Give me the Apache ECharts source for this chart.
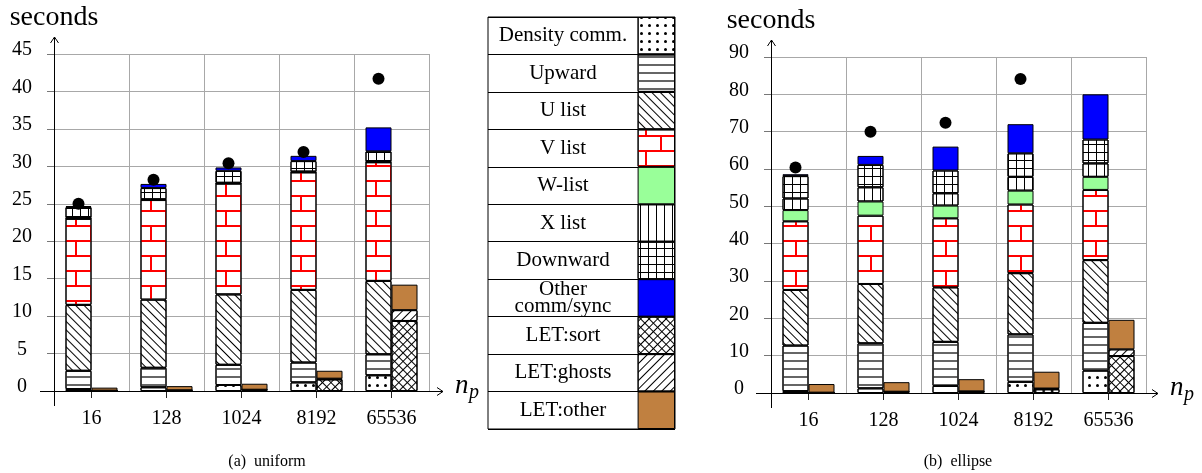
<!DOCTYPE html>
<html><head><meta charset="utf-8">
<script src="https://cdn.jsdelivr.net/npm/echarts@6/dist/echarts.min.js"></script>
<style>html,body{margin:0;padding:0;background:#fff}#c{width:1202px;height:473px}</style>
</head><body><div id="c"></div>
<script>
// ---------- data ----------
const categories = ['16', '128', '1024', '8192', '65536'];
const legendNames = ['Density comm.', 'Upward', 'U list', 'V list', 'W-list', 'X list', 'Downward', 'Other\ncomm/sync', 'LET:sort', 'LET:ghosts', 'LET:other'];
const leftTicks = [0, 5, 10, 15, 20, 25, 30, 35, 40, 45];
const rightTicks = [0, 10, 20, 30, 40, 50, 60, 70, 80, 90];

// (a) uniform
const uniDensity  = [0.25, 0.5, 0.8, 1.15, 2.1];
const uniUpward   = [2.45, 2.6, 2.7, 2.65, 2.8];
const uniUlist    = [8.8, 9.1, 9.4, 9.7, 9.8];
const uniVlist    = [11.5, 13.3, 14.8, 15.7, 15.85];
const uniWlist    = [0, 0, 0, 0, 0];
const uniXlist    = [0.1, 0.1, 0.1, 0.1, 0.1];
const uniDownward = [1.45, 1.5, 1.6, 1.4, 1.35];
const uniOther    = [0.15, 0.55, 0.45, 0.7, 3.2];
const uniLetSort   = [0.05, 0.1, 0.15, 1.55, 9.35];
const uniLetGhosts = [0, 0, 0.02, 0.1, 1.45];
const uniLetOther  = [0.4, 0.55, 0.8, 1.05, 3.4];
const uniTotal     = [25.0, 28.2, 30.4, 31.9, 41.7];

// (b) ellipse
const ellDensity  = [0.5, 1.25, 1.9, 3.0, 6.0];
const ellUpward   = [12.2, 12.05, 11.8, 12.7, 12.8];
const ellUlist    = [14.9, 15.9, 14.6, 16.4, 16.8];
const ellVlist    = [18.4, 18.3, 18.5, 18.4, 18.8];
const ellWlist    = [3.0, 3.8, 3.4, 3.7, 3.5];
const ellXlist    = [3.1, 3.8, 3.3, 3.7, 3.6];
const ellDownward = [6.0, 6.0, 6.1, 6.3, 6.4];
const ellOther    = [0.5, 2.4, 6.4, 7.8, 12.1];
const ellLetSort   = [0.1, 0.3, 0.4, 1.0, 9.9];
const ellLetGhosts = [0, 0.05, 0.05, 0.2, 1.8];
const ellLetOther  = [2.3, 2.55, 3.25, 4.5, 7.9];
const ellTotal     = [60.4, 70.0, 72.4, 84.1, 90.3];

// ---------- styles ----------
const FONT = '"Liberation Serif","Times New Roman",serif';
const styles = [
  {color: '#fff', decal: {symbol: 'circle', symbolSize: 1, color: '#000', dashArrayX: [3, 5], dashArrayY: [3, 5]}},
  {color: '#fff', decal: {symbol: 'rect', symbolSize: 1, color: '#666', dashArrayX: [10, 0], dashArrayY: [2, 6]}},
  {color: '#fff', decal: {symbol: 'rect', symbolSize: 1, color: '#000', dashArrayX: [10, 0], dashArrayY: [1, 5], rotation: Math.PI / 4}},
  {color: '#fff', decal: {symbol: 'rect', symbolSize: 1, color: '#ff0000', dashArrayX: [[30, 0], [2, 28], [30, 0], [0, 15, 2, 13]], dashArrayY: [2, 0, 13, 0]}},
  {color: '#99ff99'},
  {color: '#fff', decal: {symbol: 'rect', symbolSize: 1, color: '#000', dashArrayX: [1, 7], dashArrayY: [10, 0]}},
  {color: '#fff', decal: {symbol: 'rect', symbolSize: 1, color: '#000', dashArrayX: [[8, 0], [1, 7]], dashArrayY: [1, 0, 7, 0]}},
  {color: '#0000ff'},
  {color: '#fff', decal: {symbol: 'rect', symbolSize: 1, color: '#000', dashArrayX: [[6, 0], [1, 5]], dashArrayY: [1, 0, 5, 0], rotation: Math.PI / 4}},
  {color: '#fff', decal: {symbol: 'rect', symbolSize: 1, color: '#000', dashArrayX: [10, 0], dashArrayY: [1, 5], rotation: -Math.PI / 4}},
  {color: '#c08040'}
];

const uniSeries = [uniDensity, uniUpward, uniUlist, uniVlist, uniWlist, uniXlist, uniDownward, uniOther, uniLetSort, uniLetGhosts, uniLetOther];
const ellSeries = [ellDensity, ellUpward, ellUlist, ellVlist, ellWlist, ellXlist, ellDownward, ellOther, ellLetSort, ellLetGhosts, ellLetOther];

// ---------- layout ----------
const GL = {left: 54, top: 54, width: 375, height: 337};
const GR = {left: 771, top: 57, width: 375, height: 336};
const GT = {left: 488, top: 17, width: 187, height: 412};

function xAxisFor(gi) {
  return {
    type: 'category', gridIndex: gi, data: categories, boundaryGap: true,
    axisLine: {show: false},
    axisTick: {show: true, alignWithLabel: true, length: 7, lineStyle: {color: '#222', width: 1}},
    axisLabel: {fontSize: 20, fontFamily: FONT, color: '#000', margin: 18, interval: 0},
    splitLine: {show: true, lineStyle: {color: '#a8a8a8', width: 1}}
  };
}
function yAxisFor(gi, max, interval, ticks) {
  return {
    type: 'value', gridIndex: gi, min: 0, max: max, interval: interval,
    name: 'seconds', nameLocation: 'end', nameGap: 22,
    nameTextStyle: {fontSize: 28, fontFamily: FONT, color: '#000', align: 'center'},
    axisLine: {show: false},
    axisTick: {show: true, length: 7, lineStyle: {color: '#777', width: 1}},
    axisLabel: {fontSize: 20, fontFamily: FONT, color: '#000', margin: 32, align: 'center',
      verticalAlign: 'bottom', lineHeight: 8,
      formatter: v => (ticks.indexOf(v) >= 0 ? String(v) : '')},
    splitLine: {show: true, lineStyle: {color: '#a8a8a8', width: 1}}
  };
}

const series = [];
function addChart(arrs, totals, idx) {
  arrs.forEach((arr, i) => {
    series.push({
      type: 'bar', name: legendNames[i], xAxisIndex: idx, yAxisIndex: idx,
      stack: (i < 8 ? 'main' + idx : 'let' + idx),
      barWidth: 26, barGap: '0%',
      itemStyle: Object.assign({borderColor: '#000', borderWidth: 1}, styles[i]),
      data: arr, silent: true
    });
  });
  series.push({
    type: 'scatter', xAxisIndex: idx, yAxisIndex: idx, data: totals,
    symbol: 'circle', symbolSize: 12, symbolOffset: [-13, 0],
    itemStyle: {color: '#000', opacity: 1}, z: 10, silent: true
  });
}
addChart(uniSeries, uniTotal, 0);
addChart(ellSeries, ellTotal, 1);

// legend table as a bar chart
series.push({
  type: 'bar', xAxisIndex: 2, yAxisIndex: 2, barCategoryGap: '0%', barWidth: '100%', silent: true,
  data: legendNames.map((n, i) => ({value: 1, itemStyle: Object.assign({borderColor: '#000', borderWidth: 1}, styles[i])}))
});

function axisGraphics(g, x0ext, y0ext, xEnd, yEnd) {
  const xl = g.left, yb = g.top + g.height;
  const L = 'line', st = {stroke: '#000', lineWidth: 1};
  return [
    {type: L, shape: {x1: x0ext, y1: yb + 0.5, x2: xEnd, y2: yb + 0.5}, style: st, z: 20},
    {type: 'polyline', shape: {points: [[xEnd - 6, yb - 3.5], [xEnd, yb + 0.5], [xEnd - 6, yb + 4.5]]}, style: {stroke: '#000', lineWidth: 1, fill: null}, z: 20},
    {type: L, shape: {x1: xl + 0.5, y1: y0ext, x2: xl + 0.5, y2: yEnd}, style: st, z: 20},
    {type: 'polyline', shape: {points: [[xl - 3.5, yEnd + 6], [xl + 0.5, yEnd], [xl + 4.5, yEnd + 6]]}, style: {stroke: '#000', lineWidth: 1, fill: null}, z: 20}
  ];
}

const graphics = []
  .concat(axisGraphics(GL, 40, 406, 443, 37))
  .concat(axisGraphics(GR, 756, 408, 1158, 40))
  .concat([
    {type: 'text', x: 455, y: 399, style: {text: 'n', font: 'italic 27px ' + FONT, fill: '#000', textVerticalAlign: 'bottom'}, z: 20},
    {type: 'text', x: 469, y: 403, style: {text: 'p', font: 'italic 20px ' + FONT, fill: '#000', textVerticalAlign: 'bottom'}, z: 20},
    {type: 'text', x: 1170, y: 401, style: {text: 'n', font: 'italic 27px ' + FONT, fill: '#000', textVerticalAlign: 'bottom'}, z: 20},
    {type: 'text', x: 1184, y: 405, style: {text: 'p', font: 'italic 20px ' + FONT, fill: '#000', textVerticalAlign: 'bottom'}, z: 20},
    {type: 'text', x: 267, y: 462, style: {text: '(a)  uniform', font: '16px ' + FONT, fill: '#000', textAlign: 'center', textVerticalAlign: 'middle'}},
    {type: 'text', x: 958, y: 462, style: {text: '(b)  ellipse', font: '16px ' + FONT, fill: '#000', textAlign: 'center', textVerticalAlign: 'middle'}}
  ]);

const option = {
  animation: false,
  backgroundColor: '#fff',
  grid: [
    Object.assign({containLabel: false}, GL),
    Object.assign({containLabel: false}, GR),
    Object.assign({containLabel: false, show: true, borderColor: '#000', borderWidth: 1}, GT)
  ],
  xAxis: [xAxisFor(0), xAxisFor(1),
    {type: 'value', gridIndex: 2, min: -4, max: 1, show: false}],
  yAxis: [yAxisFor(0, 45, 5, leftTicks), yAxisFor(1, 90, 10, rightTicks),
    {type: 'category', gridIndex: 2, data: legendNames, inverse: true,
      axisLine: {show: false}, axisTick: {show: false},
      splitLine: {show: true, lineStyle: {color: '#000', width: 1}},
      axisLabel: {inside: true, align: 'center', margin: 75, interval: 0, fontSize: 21, lineHeight: 17, fontFamily: FONT, color: '#000'}}],
  series: series,
  graphic: graphics
};

const chart = echarts.init(document.getElementById('c'), null, {renderer: 'canvas'});
chart.setOption(option);
</script>
</body></html>
